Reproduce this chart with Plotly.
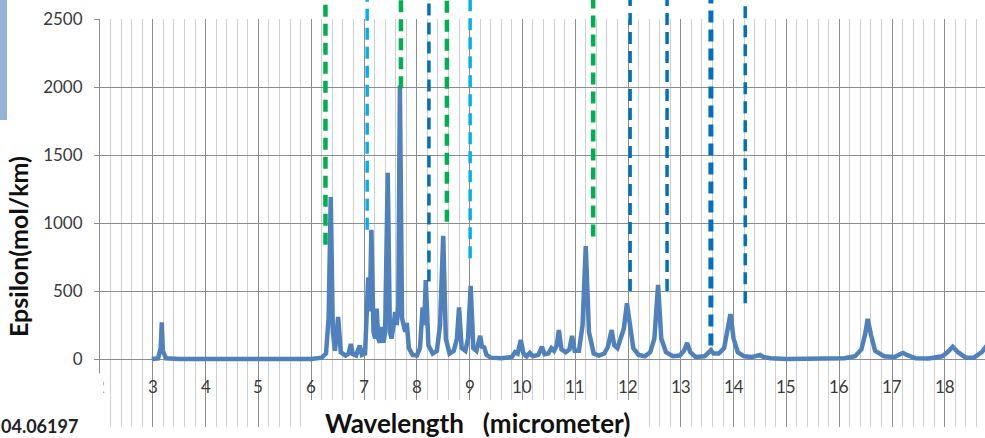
import plotly.graph_objs as go

# spectrum (micrometer, mol/km)
wavelength = [2.98, 3.10, 3.15, 3.17, 3.19, 3.25, 3.5, 6.0, 6.2, 6.28, 6.33, 6.37, 6.41, 6.45, 6.51,
              6.56, 6.65, 6.71, 6.75, 6.79, 6.85, 6.92, 6.96, 7.02, 7.08, 7.11, 7.14, 7.18, 7.21,
              7.24, 7.27, 7.30, 7.34, 7.37, 7.40, 7.45, 7.49, 7.52, 7.56, 7.59, 7.62, 7.65, 7.68,
              7.72, 7.78, 7.81, 7.85, 7.92, 8.0, 8.06, 8.11, 8.14, 8.17, 8.22, 8.30, 8.38, 8.44,
              8.50, 8.55, 8.62, 8.70, 8.76, 8.80, 8.85, 8.92, 8.97, 9.02, 9.07, 9.13, 9.20, 9.24,
              9.27, 9.32, 9.40, 9.60, 9.80, 9.86, 9.91, 9.97, 10.02, 10.08, 10.14, 10.20, 10.30,
              10.37, 10.42, 10.49, 10.55, 10.60, 10.65, 10.69, 10.74, 10.82, 10.89, 10.94, 10.99,
              11.07, 11.14, 11.20, 11.26, 11.35, 11.45, 11.55, 11.62, 11.69, 11.74, 11.80, 11.87,
              11.92, 11.98, 12.04, 12.10, 12.20, 12.32, 12.42, 12.50, 12.57, 12.63, 12.72, 12.85,
              12.98, 13.06, 13.12, 13.18, 13.28, 13.45, 13.52, 13.57, 13.62, 13.72, 13.82, 13.88,
              13.94, 14.00, 14.08, 14.20, 14.35, 14.45, 14.50, 14.56, 14.70, 15.0, 15.50, 15.64,
              15.80, 16.10, 16.30, 16.42, 16.49, 16.54, 16.60, 16.68, 16.85, 17.05, 17.15, 17.21,
              17.28, 17.45, 17.70, 17.95, 18.05, 18.15, 18.25, 18.40, 18.55, 18.70, 18.80]
epsilon = [0, 5, 80, 270, 60, 5, 0, 0, 10, 40, 300, 1190, 200, 60, 310,
           50, 25, 40, 110, 35, 25, 100, 30, 40, 600, 350, 950, 200, 150,
           370, 150, 120, 235, 120, 200, 1370, 200, 150, 250, 345, 250, 400, 2010,
           300, 200, 265, 80, 30, 25, 80, 380, 250, 580, 100, 40, 60, 250,
           905, 150, 40, 60, 150, 380, 80, 60, 150, 537, 80, 60, 170, 80,
           95, 30, 10, 5, 15, 50, 40, 140, 40, 20, 45, 20, 30,
           90, 35, 40, 80, 60, 100, 213, 70, 50, 70, 170, 60,
           60, 250, 830, 200, 40, 25, 40, 90, 213, 100, 80, 150,
           220, 410, 250, 80, 30, 20, 50, 150, 545, 150, 50, 20,
           25, 60, 118, 50, 15, 20, 45, 65, 40, 40, 80, 200,
           330, 150, 50, 20, 15, 25, 30, 15, 5, 0, 3, 10,
           3, 5, 20, 70, 180, 295, 180, 60, 20, 15, 35, 45,
           30, 5, 3, 20, 50, 90, 50, 10, 10, 50, 100]

x_tick_vals = list(range(2, 19))
y_tick_vals = [-500, 0, 500, 1000, 1500, 2000, 2500]
y_tick_text = ['', '0', '500', '1000', '1500', '2000', '2500']

# dashed marker lines: position and where they stop
mark_x = [6.27, 7.06, 7.70, 8.23, 8.57, 9.01, 11.34, 12.04, 12.74, 13.57, 14.22]
mark_end = [840, 950, 1990, 570, 1010, 740, 900, 500, 500, 100, 410]
mark_kind = ['green', 'cyan', 'green', 'blue', 'green', 'cyan', 'green', 'blue', 'blue', 'blue_thick', 'blue']

mark_style = {
    'green': dict(color='#00b050', width=4.5),
    'cyan': dict(color='#00b0f0', width=3.5),
    'blue': dict(color='#0070c0', width=3.5),
    'blue_thick': dict(color='#0070c0', width=5),
}

X_RANGE = [2, 2 + 885 / 52.8]
Y_RANGE = [-500, 2500]
FONT = 'Lato, "Open Sans", sans-serif'
TXT = '#3a3a3a'


def to_paper(v):
    return (v - Y_RANGE[0]) / (Y_RANGE[1] - Y_RANGE[0])


data = [go.Scatter(
    x=wavelength,
    y=epsilon,
    mode='lines',
    line=dict(color='#4f81bd', width=4.5),
    hoverinfo='x+y')]

shapes = []
for xv, end, kind in zip(mark_x, mark_end, mark_kind):
    st = mark_style[kind]
    shapes.append(dict(type='line', xref='x', yref='paper',
                       x0=xv, x1=xv, y0=to_paper(end), y1=1.05,
                       line=dict(color=st['color'], width=st['width'], dash='12px,7px'),
                       layer='above'))
# white box behind the axis title
shapes.append(dict(type='rect', xref='paper', yref='paper',
                   x0=205 / 885, x1=548 / 885, y0=-0.04, y1=27 / 408,
                   fillcolor='white', line=dict(width=0), layer='above'))
# blue bar at top left
shapes.append(dict(type='rect', xref='paper', yref='paper',
                   x0=-100 / 885, x1=-93 / 885, y0=307 / 408, y1=1.05,
                   fillcolor='#95b3d7', line=dict(width=0), layer='above'))

annotations = []
for t in x_tick_vals:
    annotations.append(dict(x=t, y=-205, xref='x', yref='y', text=str(t), showarrow=False,
                            xanchor='center', yanchor='middle',
                            font=dict(family=FONT, size=17, color=TXT)))
# white patch at the bottom left with the stamp text
annotations.append(dict(x=-100 / 885, y=-11 / 408, xref='paper', yref='paper',
                        xanchor='left', yanchor='bottom', width=102, height=63,
                        borderpad=0, bgcolor='white', align='left', valign='bottom',
                        text='<b>04.06197</b>', showarrow=False,
                        font=dict(family=FONT, size=18, color='#222222')))
annotations.append(dict(x=477 / 885 - 100 / 885, y=(427 - 423) / 408, xref='paper', yref='paper',
                        xanchor='center', yanchor='middle',
                        text='<b>Wavelength&nbsp;&nbsp;&nbsp;(micrometer)</b>', showarrow=False,
                        font=dict(family=FONT, size=26, color='#111111')))
annotations.append(dict(x=-82 / 885, y=(427 - 247) / 408, xref='paper', yref='paper',
                        xanchor='center', yanchor='middle',
                        text='<b>Epsilon(mol/km)</b>', textangle=-90, showarrow=False,
                        font=dict(family=FONT, size=25, color='#111111')))

layout = go.Layout(
    width=985, height=438,
    margin=dict(l=100, r=0, t=19, b=11),
    paper_bgcolor='white', plot_bgcolor='white',
    showlegend=False,
    xaxis=dict(range=X_RANGE, tick0=0, dtick=1, showticklabels=False, ticks='',
               showgrid=True, gridcolor='#8c8c8c', gridwidth=1, zeroline=False,
               minor=dict(dtick=0.2, showgrid=True, gridcolor='#cfcfcf', gridwidth=1)),
    yaxis=dict(range=Y_RANGE, tickvals=y_tick_vals, ticktext=y_tick_text,
               ticks='outside', ticklen=5, tickcolor='#8c8c8c', ticklabelstandoff=8,
               showgrid=True, gridcolor='#8c8c8c', gridwidth=1, zeroline=False,
               showline=True, linecolor='#8c8c8c', linewidth=1,
               tickfont=dict(family=FONT, size=17, color=TXT)),
    shapes=shapes,
    annotations=annotations,
    hovermode='closest')

fig = go.Figure(data=data, layout=layout)
# page body has a default margin, drop it so the figure sits at the corner
fig.write_html("out.html", config={'displayModeBar': False},
               post_script="document.body.style.margin='0';")
